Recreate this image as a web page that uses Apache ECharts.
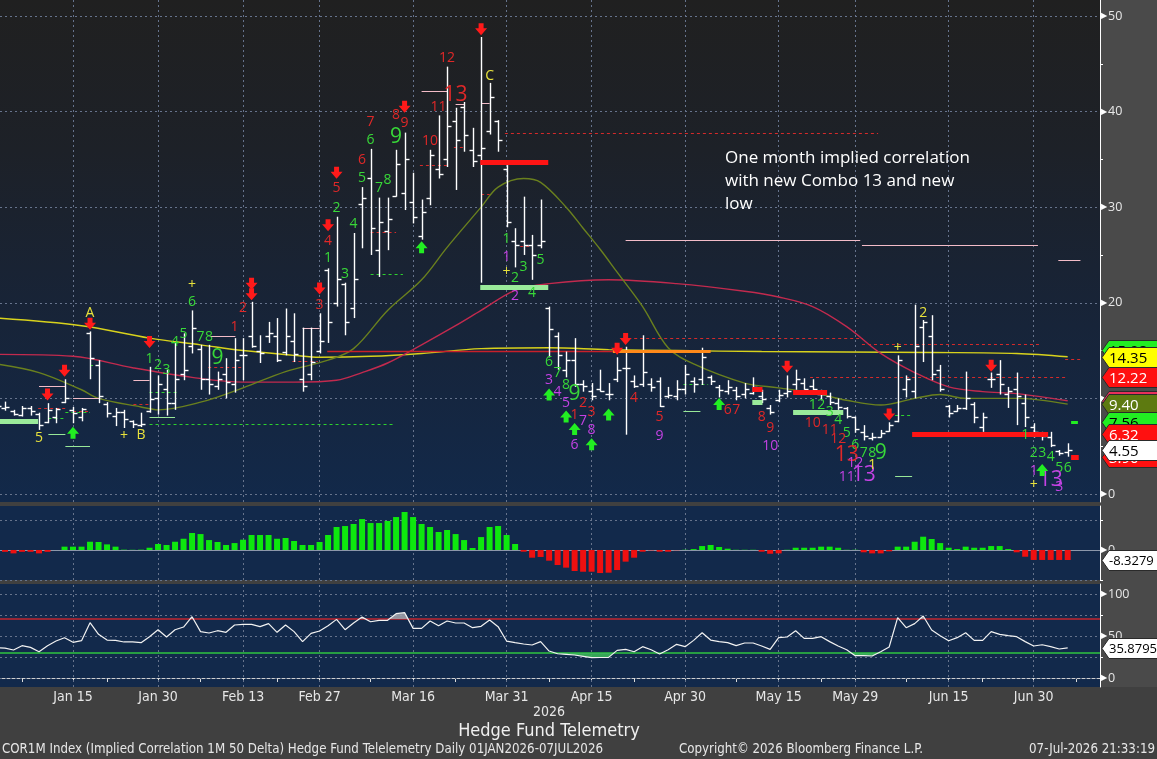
<!DOCTYPE html>
<html><head><meta charset="utf-8">
<script src="https://cdn.jsdelivr.net/npm/echarts@6/dist/echarts.min.js"></script>
<style>html,body{margin:0;padding:0;background:#404040;}#c{width:1157px;height:759px;}</style>
</head><body><div id="c"></div><script>
// ---------------- DATA ----------------
const dates = ['Jan 2','Jan 5','Jan 6','Jan 7','Jan 8','Jan 9','Jan 12','Jan 13','Jan 14','Jan 15','Jan 16','Jan 20','Jan 21','Jan 22','Jan 23','Jan 26','Jan 27','Jan 28','Jan 29','Jan 30',
'Feb 2','Feb 3','Feb 4','Feb 5','Feb 6','Feb 9','Feb 10','Feb 11','Feb 12','Feb 13','Feb 17','Feb 18','Feb 19','Feb 20','Feb 23','Feb 24','Feb 25','Feb 26','Feb 27',
'Mar 2','Mar 3','Mar 4','Mar 5','Mar 6','Mar 9','Mar 10','Mar 11','Mar 12','Mar 13','Mar 16','Mar 17','Mar 18','Mar 19','Mar 20','Mar 23','Mar 24','Mar 25','Mar 26','Mar 27','Mar 30','Mar 31',
'Apr 1','Apr 2','Apr 6','Apr 7','Apr 8','Apr 9','Apr 10','Apr 13','Apr 14','Apr 15','Apr 16','Apr 17','Apr 20','Apr 21','Apr 22','Apr 23','Apr 24','Apr 27','Apr 28','Apr 29','Apr 30',
'May 1','May 4','May 5','May 6','May 7','May 8','May 11','May 12','May 13','May 14','May 15','May 18','May 19','May 20','May 21','May 22','May 26','May 27','May 28','May 29',
'Jun 1','Jun 2','Jun 3','Jun 4','Jun 5','Jun 8','Jun 9','Jun 10','Jun 11','Jun 12','Jun 15','Jun 16','Jun 17','Jun 18','Jun 22','Jun 23','Jun 24','Jun 25','Jun 26','Jun 29','Jun 30',
'Jul 1','Jul 2','Jul 6','Jul 7'];

const labelDates = ['Jan 15','Jan 30','Feb 13','Feb 27','Mar 16','Mar 31','Apr 15','Apr 30','May 15','May 29','Jun 15','Jun 30'];
const midTickDates = ['Jan 7','Jan 22','Feb 6','Feb 20','Mar 9','Mar 23','Apr 8','Apr 22','May 8','May 22','Jun 8','Jun 22'];

const opens = [9.3,9.0,8.7,8.3,9.0,8.4,7.5,8.0,9.6,8.8,
8.0,16.8,13.5,9.4,8.2,8.6,7.6,7.2,8.7,10.0,
11.0,9.5,12.5,15.5,15.2,12.0,11.3,12.5,11.5,14.5,
16.5,15.0,16.5,16.5,14.8,16.0,12.0,12.5,15.0,23.4,
20.0,22.0,19.5,30.3,33.0,25.5,27.5,31.2,31.5,30.5,
27.0,31.0,34.0,35.0,39.0,40.5,36.0,35.5,38.0,39.0,
34.0,26.5,26.5,26.0,26.0,19.5,16.5,13.0,14.0,11.5,
10.8,11.0,10.5,12.0,13.2,11.8,11.5,11.5,11.8,10.2,
10.2,11.0,11.8,12.0,12.2,11.2,10.8,10.9,10.5,10.6,
10.3,9.0,9.8,10.6,11.5,11.6,11.3,10.5,10.3,9.5,
9.0,8.0,6.5,5.9,6.0,6.6,7.6,11.0,10.8,17.5,
16.5,13.0,9.2,8.7,9.0,9.4,7.0,12.0,12.5,10.5,
11.0,9.5,7.0,6.2,6.0,4.5,4.4];
const highs = [9.8,9.66,8.8,9.2,9.2,8.5,9.5,9.0,12.0,9.1,
9.0,17.0,14.0,9.6,9.0,8.8,7.7,8.5,13.3,12.4,
13.0,15.9,16.8,19.2,15.6,15.6,12.8,14.2,16.3,16.3,
20.1,16.6,18.0,18.4,19.4,18.9,17.4,17.4,18.9,23.6,
29.0,22.1,27.3,32.1,36.1,31.0,31.0,36.0,37.8,33.6,
30.8,36.0,39.6,44.7,40.4,41.0,38.3,47.8,43.0,39.1,
34.4,27.8,31.1,27.1,30.8,19.6,16.9,14.9,16.3,11.9,
11.6,13.0,11.6,14.3,15.4,12.4,16.6,12.1,12.2,11.2,
11.9,13.5,12.2,15.3,12.4,11.4,11.9,11.2,11.6,12.2,
10.9,9.3,10.9,12.4,13.0,12.1,12.0,10.9,10.6,10.0,
9.1,8.1,7.2,6.4,6.7,7.5,14.5,12.4,19.8,18.2,
18.7,13.5,9.3,9.3,12.8,9.6,8.5,12.7,14.0,11.2,
12.7,10.4,7.4,6.5,6.5,4.6,5.3];
const lows = [8.8,8.71,8.2,8.1,8.2,6.7,7.4,7.4,9.5,7.4,
7.6,12.0,9.5,8.0,7.1,6.9,6.9,7.0,8.5,8.3,
8.2,8.8,11.9,14.7,10.9,10.4,10.9,10.0,10.6,11.9,
15.3,13.7,15.8,13.8,14.5,13.8,10.7,11.9,14.7,15.8,
19.6,16.6,18.4,25.7,25.0,22.7,25.5,31.1,29.7,28.3,
26.6,30.2,33.0,34.2,31.8,35.8,34.2,22.1,37.6,35.8,
27.9,23.7,25.0,22.4,25.7,14.3,13.0,12.2,11.2,10.7,
9.8,10.7,9.8,11.7,6.2,11.1,11.2,10.7,9.1,10.0,
9.8,10.4,10.6,11.4,11.4,10.1,10.4,9.8,10.0,10.4,
9.5,8.3,9.6,10.1,10.9,10.9,10.6,9.8,9.3,8.8,
7.9,6.4,5.6,5.6,5.9,6.5,7.5,10.1,10.0,13.8,
11.9,10.7,8.0,8.6,8.8,7.4,6.5,11.1,10.4,9.0,
7.2,7.0,5.9,5.6,4.9,4.0,3.9];
const closes = [9.2,9.1,8.4,9.0,8.7,7.2,8.8,8.9,10.0,8.5,
8.9,14.2,10.2,8.5,8.6,7.8,7.3,7.3,9.9,11.5,
9.5,12.0,13.0,17.4,12.0,11.5,12.0,11.7,14.0,14.5,
15.5,14.7,16.8,14.0,16.5,14.6,11.3,13.8,16.0,18.0,
22.5,18.0,22.5,31.0,27.8,28.5,28.8,34.5,35.0,29.0,
29.5,35.5,33.5,38.5,37.0,37.5,34.8,36.2,41.5,37.0,
28.5,26.0,26.0,25.0,26.5,17.3,14.5,14.0,11.5,11.3,
10.2,10.8,10.5,13.0,13.2,11.3,12.8,11.2,9.2,10.4,
11.0,12.5,11.5,14.3,11.8,10.9,11.2,10.3,11.0,11.2,
9.9,8.6,10.4,10.8,12.0,11.0,11.0,10.5,9.6,9.1,
8.2,6.8,6.1,6.0,6.4,7.2,14.0,12.0,15.5,18.0,
12.5,11.0,8.5,9.0,10.0,8.0,8.0,12.0,11.5,10.8,
10.2,8.0,6.5,6.1,5.1,4.3,4.55];

// moving averages: [bar index, value]
const yellowMA = [[0,18.4],[10,17.6],[18,16.3],[24,15.6],[29,15.0],[35,14.5],[38,14.3],[44,14.4],[50,14.7],[57,15.2],[65,15.3],[72,15.1],[80,15.0],[90,14.9],[100,14.85],[110,14.8],[120,14.7],[126,14.35]];
const redMA = [[0,14.6],[9,14.4],[16,13.2],[23,12.2],[29,11.7],[35,11.7],[40,11.9],[43,12.7],[46,13.7],[50,15.6],[54,17.6],[57,19.2],[61,21.3],[65,22.0],[72,22.4],[80,22.0],[88,21.2],[92,20.6],[96,19.6],[100,17.5],[104,14.7],[108,12.7],[112,11.2],[116,10.7],[120,10.5],[126,9.75]];
const oliveMA = [[0,13.6],[5,12.7],[10,10.9],[12,10.0],[17,9.1],[19,8.8],[24,9.6],[29,11.1],[34,12.8],[39,14.0],[42,15.2],[46,19.2],[50,22.4],[53,25.8],[57,30.0],[59,32.1],[62,33.0],[64,32.6],[67,30.0],[69,27.8],[71,25.6],[73,23.2],[76,19.6],[79,15.3],[82,13.6],[88,11.6],[92,11.1],[96,10.6],[100,9.8],[104,9.3],[108,10.0],[111,10.4],[114,10.0],[120,10.0],[126,9.4]];

const histogram = [-1.0,-1.5,-2.8,-1.5,-1.5,-2.8,-1.5,0,2.8,2.8,
2.8,6.9,6.7,4.7,2.8,0.3,0.2,0.3,1.9,5.0,
4.2,6.9,9.4,14.2,13.3,8.3,6.7,4.2,5.8,8.6,
12.5,12.5,12.5,9.4,10.0,7.5,4.2,4.2,6.7,12.5,
19.2,20.0,21.7,25.8,22.5,22.5,24.2,27.5,31.7,27.5,
21.7,19.2,15.0,16.7,13.3,8.3,1.7,10.8,19.2,20.0,
12.5,5.0,-1.4,-6.4,-5.8,-8.9,-12.5,-14.7,-17.5,-18.1,
-18.1,-19.2,-18.9,-16.7,-9.7,-6.4,-1.4,-0.3,-1.4,-1.4,
-0.2,0.2,0.8,3.3,4.2,2.5,1.1,0.2,0.2,0.2,
-1.4,-3.1,-2.8,0.2,1.9,1.9,1.9,2.8,2.8,1.9,
0.2,0.2,-1.9,-2.8,-2.8,-1.1,2.8,2.8,6.9,11.1,
9.2,5.8,1.9,0.8,2.8,1.9,1.9,3.3,3.3,0.8,
-1.9,-5.6,-8.3,-8.3,-8.3,-8.3,-8.3279];

const rsi = [36.0,35.5,33.3,38.5,36.5,31.3,38.5,44.0,48.0,42.5,
44.4,65.9,52.0,45.2,44.8,42.9,42.9,42.1,49.2,57.5,
48.8,57.5,60.7,73.0,55.2,53.6,56.3,54.4,63.1,63.9,
63.9,61.1,64.7,54.4,63.1,55.2,43.3,53.2,56.0,62.3,
69.8,57.5,65.5,72.5,67.0,68.7,68.7,76.6,77.8,59.1,
59.1,67.9,62.3,67.9,65.5,65.5,59.9,61.5,69.0,61.1,
44.0,42.1,40.5,39.3,43.3,32.1,28.9,28.2,27.4,25.8,
24.2,24.4,24.6,32.9,34.1,31.3,37.3,33.7,28.6,33.7,
40.1,37.3,44.8,53.9,45.2,43.3,42.1,38.5,41.7,41.7,
38.1,34.1,48.0,48.8,56.3,47.2,47.2,49.2,43.3,38.1,
33.7,26.6,26.6,26.2,31.3,36.9,71.8,59.9,64.7,73.8,
57.1,50.4,44.4,48.0,53.9,44.8,44.8,55.2,52.0,50.4,
49.2,43.3,38.1,39.6,37.3,34.5,35.8795];

// DeMark annotations: [bar index, level, text]
const greenCounts = [[18,14.1,'1'],[19,13.5,'2'],[20,13.0,'3'],[21,15.9,'4'],[22,16.7,'5'],[23,20.1,'6'],[24,16.4,'7'],[25,16.4,'8'],
[39,24.7,'1'],[40,29.9,'2'],[41,23.0,'3'],[42,28.2,'4'],[43,33.0,'5'],[44,37.0,'6'],[45,32.0,'7'],[46,32.8,'8'],
[60,26.7,'1'],[61,22.6,'2'],[62,23.7,'3'],[63,21.0,'4'],[64,24.5,'5'],[65,13.8,'6'],[66,12.6,'7'],[67,11.4,'8'],
[96,9.3,'1'],[97,9.3,'2'],[98,8.6,'3'],[99,7.7,'4'],[100,6.4,'5'],[101,5.1,'6'],[102,4.3,'7'],[103,4.3,'8'],
[121,6.2,'1'],[122,4.3,'2'],[123,4.3,'3'],[124,3.9,'4'],[125,2.7,'5'],[126,2.7,'6']];
const greenNines = [[26,14.2,'9'],[47,37.3,'9'],[68,10.5,'9'],[104,4.3,'9']];
const redCounts = [[28,17.5,'1'],[29,19.4,'2'],[38,19.8,'3'],[39,26.5,'4'],[40,32.0,'5'],[43,34.9,'6'],[44,38.9,'7'],[47,39.6,'8'],[48,38.8,'9'],
[51,36.9,'10'],[52,40.5,'11'],[53,45.6,'12'],
[68,8.3,'1'],[69,9.5,'2'],[70,8.6,'3'],[75,10.0,'4'],[78,8.0,'5'],[86,8.8,'6'],[87,8.8,'7'],[90,8.1,'8'],[91,6.9,'9'],
[96,7.4,'10'],[98,6.7,'11'],[99,5.8,'12']];
const redThirteens = [[54,41.7,'13'],[100,4.1,'13']];
const magentaCounts = [[60,24.8,'1'],[61,20.7,'2'],[65,11.9,'3'],[66,10.7,'4'],[67,9.5,'5'],[68,5.1,'6'],[69,7.6,'7'],[70,6.7,'8'],[78,6.1,'9'],
[91,5.0,'10'],[100,1.8,'11'],[101,3.2,'12'],[122,2.4,'1'],[125,0.7,'3']];
const magentaThirteens = [[102,2.0,'13'],[124,1.5,'13']];
const yellowMarks = [[5,5.9,'5'],[11,18.9,'A'],[15,6.1,'+'],[17,6.2,'B'],[23,21.9,'+'],[58,43.7,'C'],[60,23.2,'+'],[103,3.0,'1'],[106,15.3,'+'],[109,18.9,'2'],[122,0.9,'+']];
const downArrows = [[6,10.4],[8,12.9],[11,17.8],[18,15.9],[30,22.0],[30,20.9],[38,21.5],[39,28.1],[40,33.6],[48,40.5],[57,48.6],[73,15.2],[74,16.2],[93,13.3],[105,8.3],[117,13.4]];
const upArrows = [[9,6.4],[50,25.8],[65,10.4],[67,8.1],[68,6.8],[70,5.2],[72,8.3],[85,9.4],[123,2.5]];

// horizontal levels: [from bar, to bar, level]
const riskGreenBars = [[-1,4.9,7.6],[56.9,64.9,21.6],[93.7,99.6,8.6],[88.9,90.1,9.6]];
const riskRedBars = [[56.9,64.9,34.7],[93.7,97.7,10.7],[88.9,90.1,11.0],[107.7,123.7,6.32],[126.4,127.3,3.9]];
const tdstRed = [[4.9,8.1,9.0],[9.0,11.0,8.7],[16.1,18.0,9.4],[24.9,28.9,13.3],[34.8,37.8,13.9],[44.0,47.0,27.4],[49.8,53.0,34.4],[53.8,55.0,36.3],[57.0,58.0,31.4],[61.6,63.1,25.9],[59.8,103.7,37.8],[74.3,101.9,16.3],[101.8,122.8,15.7],[125.7,127.7,14.1],[95.7,125.7,12.22]];
const tdstGreen = [[6.1,8.1,7.9],[8.1,11.0,8.6],[11.0,12.2,13.5],[18.0,21.2,10.7],[18.0,46.9,7.3],[44.0,47.8,23.0],[80.8,83.7,11.5],[105.7,107.7,8.3]];
const pinkLevels = [[5.0,8.1,11.3],[9.0,12.2,10.0],[16.1,18.0,11.9],[25.1,28.1,16.5],[36.0,38.0,17.4],[50.0,53.0,42.2],[54.0,55.0,40.8],[57.0,58.0,40.9],[74.0,101.6,26.6],[101.8,122.5,26.0],[124.9,127.5,24.44]];
const greenThin = [[6.1,8.1,6.3],[8.1,11.0,5.0],[18.0,21.0,8.0],[80.8,82.8,8.7],[105.7,107.7,1.9]];
const greenStub = [[126.4,127.2,7.56]];
const redLevel = [[38.9,72.5,15.0]];
const orangeLevel = [[72.5,84.0,15.0]];

// right-hand value tags
const priceTags = [[15.08,'15.08'],[14.35,'14.35'],[12.22,'12.22'],[9.75,'9.75'],[9.40,'9.40'],[7.56,'7.56'],[6.32,'6.32'],[3.90,'3.90'],[4.55,'4.55']];
const histTags = [[-8.3279,'-8.3279']];
const rsiTags = [[35.8795,'35.8795']];

// ---------------- CHART ----------------
const xMin = 0.41, xMax = 129.8;
const idx = d => dates.indexOf(d);
const labelIdx = labelDates.map(idx);
const tickIdx = labelIdx.concat(midTickDates.map(idx), [dates.length]);
const idxLabel = {}; labelDates.forEach(d => idxLabel[idx(d)] = d);

const FONT = '"Open Sans", "DejaVu Sans", sans-serif';
const NARROW = '"Liberation Sans Narrow", "Arial Narrow", "DejaVu Sans Condensed", "Roboto Condensed", sans-serif';

function levelSeries(rows, style, z) {
  return { type:'custom', xAxisIndex:0, yAxisIndex:0, z:z||4, clip:true, silent:true,
    data: rows.map(r => [r[0], r[2]]),
    renderItem(params, api) {
      const r = rows[params.dataIndex];
      const a = api.coord([r[0], r[2]]), b = api.coord([r[1], r[2]]);
      const y = Math.round(a[1]) + 0.5;
      return { type:'line', shape:{x1:a[0], y1:y, x2:b[0], y2:y}, style: Object.assign({}, style) };
    } };
}
function textSeries(rows, color, size, z) {
  return { type:'custom', xAxisIndex:0, yAxisIndex:0, z:z||6, clip:true, silent:true,
    data: rows.map(r => [r[0], r[1]]),
    renderItem(params, api) {
      const r = rows[params.dataIndex];
      const p = api.coord([r[0], r[1]]);
      return { type:'text', x:p[0], y:p[1], style:{ text:r[2], fill:color, font: size + 'px ' + FONT, align:'center', verticalAlign:'middle' } };
    } };
}
function arrowSeries(rows, dir, color) {
  return { type:'custom', xAxisIndex:0, yAxisIndex:0, z:6, clip:true, silent:true,
    data: rows.map(r => [r[0], r[1]]),
    renderItem(params, api) {
      const r = rows[params.dataIndex];
      const p = api.coord([r[0], r[1]]);
      const cx = p[0], cy = p[1], s = dir;
      const pts = [[cx-2.5, cy-6*s],[cx+2.5, cy-6*s],[cx+2.5, cy-1*s],[cx+6, cy-1*s],[cx, cy+6*s],[cx-6, cy-1*s],[cx-2.5, cy-1*s]];
      return { type:'polygon', shape:{points:pts}, style:{fill:color} };
    } };
}
function tagSeries(rows, colors, xi, yi, fontSize) {
  return { type:'custom', xAxisIndex:xi, yAxisIndex:yi, z:20, clip:false, silent:true,
    data: rows.map(r => [xMax, r[0]]),
    renderItem(params, api) {
      const r = rows[params.dataIndex], c = colors[params.dataIndex];
      const p = api.coord([xMax, r[0]]);
      const x = Math.round(p[0]) + 2, y = Math.round(p[1]) + 0.5;
      return { type:'group', children:[
        { type:'polygon', shape:{points:[[x,y],[x+7,y-10],[x+60,y-10],[x+60,y+10],[x+7,y+10]]}, style:{fill:c[0], stroke:'#2a2a2a', lineWidth:1} },
        { type:'text', x:x+7, y:y+1, style:{ text:r[1], fill:c[1], font:fontSize + 'px ' + FONT, align:'left', verticalAlign:'middle' } }
      ] };
    } };
}
function gridLines(xi, yi, yVals, extra) {
  const data = labelIdx.map(v => ({xAxis:v})).concat(yVals.map(v => ({yAxis:v}))).concat(extra || []);
  return { type:'line', xAxisIndex:xi, yAxisIndex:yi, data:[], symbol:'none', silent:true, z:1,
    markLine:{ silent:true, symbol:['none','none'], label:{show:false}, z:1, animation:false,
      lineStyle:{ color:'#66738c', type:[2,3], width:1 }, data } };
}
const rightLabelRich = { t:{ fontSize:8, color:'#ffffff', padding:[0,1,0,0] }, n:{ fontSize:12.5, color:'#e8e8e8', fontFamily:FONT } };
function yAx(gi, min, max, labels, ticks) {
  return { type:'value', gridIndex:gi, position:'right', min, max,
    axisLine:{ show:true, lineStyle:{ color:'#ffffff', width:1 } },
    axisTick:{ show:true, customValues:ticks, length:3, lineStyle:{ color:'#ffffff' } },
    axisLabel:{ show:true, customValues:labels, margin:1, formatter: v => '{t|\u25B6}{n|' + v + '}', rich:rightLabelRich },
    splitLine:{ show:false } };
}
function xAx(gi, show) {
  return { type:'value', gridIndex:gi, min:xMin, max:xMax, show: show,
    axisLine:{ show:show, lineStyle:{ color:'#cfcfcf' } },
    axisTick:{ show:show, customValues:tickIdx, length:4, inside:false, lineStyle:{ color:'#dcdcdc' } },
    axisLabel:{ show:show, customValues:labelIdx, margin:3, color:'#e6e6e6', fontSize:14, fontFamily:NARROW, formatter: v => idxLabel[Math.round(v)] || '' },
    splitLine:{ show:false } };
}

const ohlcData = dates.map((d, i) => [i, opens[i], highs[i], lows[i], closes[i]]);
const histData = histogram.map((v, i) => [i, v]);
const rsiData = rsi.map((v, i) => [i, v]);

const mainBg = { type:'linear', x:0, y:0, x2:0, y2:1, colorStops:[{offset:0, color:'#202020'},{offset:0.3, color:'#1d2128'},{offset:0.65, color:'#172439'},{offset:1, color:'#12294a'}] };

const series = [
  gridLines(0, 0, [0,10,20,30,40,50]),
  gridLines(1, 1, [25,-25], [{yAxis:0, lineStyle:{color:'#8c97aa', type:'solid', width:1}}]),
  gridLines(2, 2, [0,25,50,75,100], [{yAxis:70, lineStyle:{color:'#c3262e', type:'solid', width:1.5}}, {yAxis:30, lineStyle:{color:'#2fc43f', type:'solid', width:1.5}}]),
  { type:'line', xAxisIndex:0, yAxisIndex:0, data:yellowMA, smooth:0.35, showSymbol:false, silent:true, z:2, lineStyle:{ color:'#d8d21c', width:1.4 } },
  { type:'line', xAxisIndex:0, yAxisIndex:0, data:redMA, smooth:0.35, showSymbol:false, silent:true, z:2, lineStyle:{ color:'#c22a4e', width:1.4 } },
  { type:'line', xAxisIndex:0, yAxisIndex:0, data:oliveMA, smooth:0.35, showSymbol:false, silent:true, z:2, lineStyle:{ color:'#6a801e', width:1.4 } },
  levelSeries(tdstRed, { stroke:'#d42a2a', lineWidth:1, lineDash:[3,3] }, 3),
  levelSeries(tdstGreen, { stroke:'#2ed12e', lineWidth:1, lineDash:[3,3] }, 3),
  levelSeries(pinkLevels, { stroke:'#f3bcc8', lineWidth:1 }, 3),
  levelSeries(greenThin, { stroke:'#98e898', lineWidth:1 }, 3),
  levelSeries(redLevel, { stroke:'#c8202a', lineWidth:1.6 }, 3),
  { type:'custom', xAxisIndex:0, yAxisIndex:0, z:4, clip:true, silent:true, data:ohlcData,
    renderItem(params, api) {
      const i = api.value(0);
      const pH = api.coord([i, api.value(2)]), pL = api.coord([i, api.value(3)]);
      const pO = api.coord([i, api.value(1)]), pC = api.coord([i, api.value(4)]);
      const x = Math.round(pH[0]) + 0.5;
      const yo = Math.round(pO[1]) + 0.5, yc = Math.round(pC[1]) + 0.5;
      const st = { stroke:'#ffffff', lineWidth:1.4 };
      return { type:'group', children:[
        { type:'line', shape:{x1:x, y1:pH[1], x2:x, y2:pL[1]}, style:st },
        { type:'line', shape:{x1:x-4, y1:yo, x2:x, y2:yo}, style:st },
        { type:'line', shape:{x1:x, y1:yc, x2:x+4, y2:yc}, style:st }
      ] };
    } },
  levelSeries(orangeLevel, { stroke:'#ff8a1a', lineWidth:3 }, 5),
  levelSeries(riskRedBars, { stroke:'#ff1414', lineWidth:5 }, 5),
  levelSeries(riskGreenBars, { stroke:'#9aea9a', lineWidth:5 }, 5),
  levelSeries(greenStub, { stroke:'#22ee22', lineWidth:3 }, 5),
  textSeries(greenCounts, '#38d838', 14),
  textSeries(greenNines, '#38d838', 21),
  textSeries(redCounts, '#e02828', 14),
  textSeries(redThirteens, '#e02828', 21),
  textSeries(magentaCounts, '#c442e4', 14),
  textSeries(magentaThirteens, '#c442e4', 21),
  textSeries(yellowMarks, '#e8e23c', 14),
  arrowSeries(downArrows, 1, '#ff1a1a'),
  arrowSeries(upArrows, -1, '#22ee22'),
  tagSeries(priceTags, [['#22ee22','#000'],['#ffff00','#000'],['#ff1010','#fff'],['#e8305a','#fff'],['#5d7a10','#fff'],['#22ee22','#000'],['#ff1010','#fff'],['#ff1010','#fff'],['#ffffff','#000']], 0, 0, 15),
  { type:'bar', xAxisIndex:1, yAxisIndex:1, data:histData, barWidth:6, silent:true, z:3,
    itemStyle:{ color: p => p.value[1] >= 0 ? '#0ee80e' : '#ee1010' } },
  tagSeries(histTags, [['#ffffff','#000']], 1, 1, 13),
  { type:'line', xAxisIndex:2, yAxisIndex:2, data:rsiData, showSymbol:false, silent:true, z:2,
    lineStyle:{ width:0, opacity:0 }, areaStyle:{ origin:70, opacity:0.85 } },
  { type:'line', xAxisIndex:2, yAxisIndex:2, data:rsiData, showSymbol:false, silent:true, z:3,
    lineStyle:{ color:'#f2f2f2', width:1.2 } },
  tagSeries(rsiTags, [['#ffffff','#000']], 2, 2, 13)
];
const rsiAreaIndex = series.length - 3;

const option = {
  animation:false,
  backgroundColor:'#404040',
  grid:[
    { left:0, right:57, top:0, height:502, show:true, backgroundColor:mainBg, borderWidth:0 },
    { left:0, right:57, top:506, height:74, show:true, backgroundColor:'#12294b', borderWidth:0 },
    { left:0, right:57, top:584, height:103, show:true, backgroundColor:'#12294b', borderWidth:0 }
  ],
  xAxis:[ xAx(0,false), xAx(1,false), xAx(2,true) ],
  yAxis:[
    yAx(0, -0.84, 51.67, [0,10,20,30,40,50], [0,5,10,15,20,25,30,35,40,45,50]),
    yAx(1, -25, 36.7, [0], [-25,0,25]),
    yAx(2, -10.7, 111.9, [0,50,100], [0,25,50,75,100])
  ],
  visualMap:[{ type:'piecewise', show:false, seriesIndex:rsiAreaIndex, dimension:1,
    pieces:[{gt:70, color:'#a6a6ae'},{gte:30, lte:70, color:'rgba(0,0,0,0)'},{lt:30, color:'#3dbb5a'}] }],
  graphic:[
    { type:'rect', z:-10, shape:{x:1100, y:0, width:57, height:687}, style:{fill:'#4a4a4a'} },
    { type:'text', z:10, x:725, y:147, style:{ text:'One month implied correlation\nwith new Combo 13 and new\nlow', fill:'#ffffff', font:'17px ' + FONT, lineHeight:23 } },
    { type:'text', z:10, x:549, y:712, style:{ text:'2026', fill:'#e6e6e6', font:'14px ' + NARROW, align:'center', verticalAlign:'middle' } },
    { type:'text', z:10, x:549, y:731, style:{ text:'Hedge Fund Telemetry', fill:'#f0f0f0', font:'18px ' + NARROW, align:'center', verticalAlign:'middle' } },
    { type:'text', z:10, x:2, y:750, style:{ text:'COR1M Index (Implied Correlation 1M 50 Delta) Hedge Fund Telelemetry Daily 01JAN2026-07JUL2026', fill:'#e6e6e6', font:'13.2px ' + NARROW, align:'left', verticalAlign:'middle' } },
    { type:'text', z:10, x:801, y:750, style:{ text:'Copyright\u00A9 2026 Bloomberg Finance L.P.', fill:'#e6e6e6', font:'13.2px ' + NARROW, align:'center', verticalAlign:'middle' } },
    { type:'text', z:10, x:1155, y:750, style:{ text:'07-Jul-2026 21:33:19', fill:'#e6e6e6', font:'13.2px ' + NARROW, align:'right', verticalAlign:'middle' } }
  ],
  series
};
const chart = echarts.init(document.getElementById('c'));
chart.setOption(option);
</script></body></html>
